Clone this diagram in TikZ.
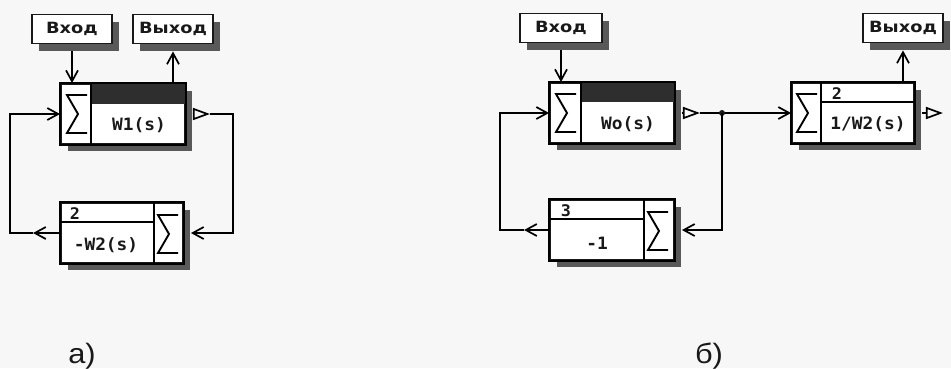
\documentclass[tikz,border=0pt]{standalone}
\usepackage{fontspec}
\setmainfont{Liberation Sans}
\newfontfamily\lblfont{DejaVu Sans}[FakeStretch=1.15]
\newfontfamily\blkfont{DejaVu Sans Mono}[FakeStretch=1.05]
\newfontfamily\capfont{Liberation Sans}[FakeStretch=1.1]
\usetikzlibrary{arrows.meta,shadows}
\newcommand\sigmark[1]{\draw[line join=miter] (#1) ++(10,-19) -- ++(-20,0) -- ++(11,19) -- ++(-11,19) -- ++(20,0);}
\begin{document}
\begin{tikzpicture}[x=1pt,y=-1pt,line width=1.9pt,
  shd/.style={drop shadow={shadow xshift=7pt,shadow yshift=-7pt,fill=black!65,opacity=1}},
  iobox/.style={draw=black!90,fill=white,shd,minimum width=80pt,minimum height=29pt,inner sep=0pt,
     font=\lblfont\bfseries\fontsize{15.5pt}{15.5pt}\selectfont,text=black!90},
  blk/.style={draw=black!90,fill=white,shd,minimum width=124pt,minimum height=60pt,inner sep=0pt},
  strip/.style={fill=black!82},
  tf/.style={font=\blkfont\bfseries\fontsize{17pt}{17pt}\selectfont,text=black!90,inner sep=0pt},
  nf/.style={font=\blkfont\bfseries\fontsize{16pt}{16pt}\selectfont,text=black!90,inner sep=0pt},
  caplbl/.style={font=\capfont\fontsize{28pt}{28pt}\selectfont,text=black!90,anchor=base},
  inarr/.style={-{Straight Barb[length=11pt,width=12pt,line width=1.7pt]}},
  outarr/.style={-{Triangle[open,length=17pt,width=12pt,line width=1.7pt]}}]
\useasboundingbox[fill=black!3] (0,0) rectangle (951,368);

% ---------------- a) ----------------
\node[iobox] (inA) at (72,29) {Вход};
\node[iobox] (outA) at (173,29) {Выход};

\node[blk] (W1) at (123,114) {};
\fill[strip] ([xshift=31pt]W1.north west) rectangle ([yshift=-21pt]W1.north east);
\draw ([xshift=31pt]W1.north west) -- ([xshift=31pt]W1.south west);
\draw (W1.north west) rectangle (W1.south east);
\coordinate (sA1) at (77,114);
\sigmark{sA1}
\node[tf] (tW1) at (139,125) {W1(s)};

\node[blk,minimum width=122pt] (L2) at (122,233) {};
\draw ([xshift=-30pt]L2.north east) -- ([xshift=-30pt]L2.south east);
\draw ([yshift=-20pt]L2.north west) -- ([xshift=-30pt,yshift=-20pt]L2.north east);
\draw (L2.north west) rectangle (L2.south east);
\coordinate (sA2) at (168,234);
\sigmark{sA2}
\node[nf] (nA2) at (75,214) {2};
\node[tf] (tL2) at (106,245) {-W2(s)};

\draw[inarr] ([yshift=-7pt]inA.south) -- (inA.south |- W1.north);
\draw[inarr] (outA.south |- W1.north) -- ([yshift=-7pt]outA.south);

\draw[outarr] ([xshift=7pt]W1.east) -- ++(17,0) coordinate (oA1);
\coordinate (cA1) at (233,114);
\coordinate (cA2) at (233,233);
\draw[inarr] (oA1) -- (cA1) -- (cA2) -- ([xshift=7pt]L2.east);
\draw[inarr] (L2.west) -- ++(-27,0) coordinate (oA2);
\coordinate (cA3) at (10,233);
\coordinate (cA4) at (10,114);
\draw[inarr] (oA2) -- (cA3) -- (cA4) -- (W1.west);

\node[caplbl] (capA) at (82,363) {а)};

% ---------------- б) ----------------
\node[iobox,minimum width=82pt] (inB) at (561,28) {Вход};
\node[iobox] (outB) at (903,28) {Выход};

\node[blk] (Wo) at (612,113) {};
\fill[strip] ([xshift=32pt]Wo.north west) rectangle ([yshift=-20pt]Wo.north east);
\draw ([xshift=32pt]Wo.north west) -- ([xshift=32pt]Wo.south west);
\draw (Wo.north west) rectangle (Wo.south east);
\coordinate (sB1) at (566,113);
\sigmark{sB1}
\node[tf] (tWo) at (628,124) {Wo(s)};

\node[blk,minimum width=122pt] (B2) at (853,113) {};
\draw ([xshift=30pt]B2.north west) -- ([xshift=30pt]B2.south west);
\draw ([xshift=30pt,yshift=-20pt]B2.north west) -- ([yshift=-20pt]B2.north east);
\draw (B2.north west) rectangle (B2.south east);
\coordinate (sB2) at (807,113);
\sigmark{sB2}
\node[nf] (nB2) at (837,94) {2};
\node[tf] (tB2) at (868,124) {1/W2(s)};

\node[blk] (B3) at (612,230) {};
\draw ([xshift=-31pt]B3.north east) -- ([xshift=-31pt]B3.south east);
\draw ([yshift=-20pt]B3.north west) -- ([xshift=-31pt,yshift=-20pt]B3.north east);
\draw (B3.north west) rectangle (B3.south east);
\coordinate (sB3) at (658,231);
\sigmark{sB3}
\node[nf] (nB3) at (566,211) {3};
\node[tf] (tB3) at (597,243) {-1};

\draw[inarr] ([yshift=-7pt]inB.south) -- (inB.south |- Wo.north);
\draw[inarr] (outB.south |- B2.north) -- ([yshift=-7pt]outB.south);

\draw[outarr] ([xshift=7pt]Wo.east) -- ++(18,0) coordinate (oB1);
\coordinate (J) at (722,113);
\draw[inarr] (oB1) -- (J) -- (B2.west);
\fill[black!90] (J) circle (3pt);
\draw[outarr] ([xshift=7pt]B2.east) -- ++(21,0) coordinate (oB2);

\coordinate (cB1) at (722,230);
\draw[inarr] (J) -- (cB1) -- ([xshift=7pt]B3.east);
\draw[inarr] (B3.west) -- ++(-25,0) coordinate (oB3);
\coordinate (cB2) at (500,230);
\coordinate (cB3) at (500,113);
\draw[inarr] (oB3) -- (cB2) -- (cB3) -- (Wo.west);

\node[caplbl] (capB) at (709,363) {б)};
\end{tikzpicture}
\end{document}
